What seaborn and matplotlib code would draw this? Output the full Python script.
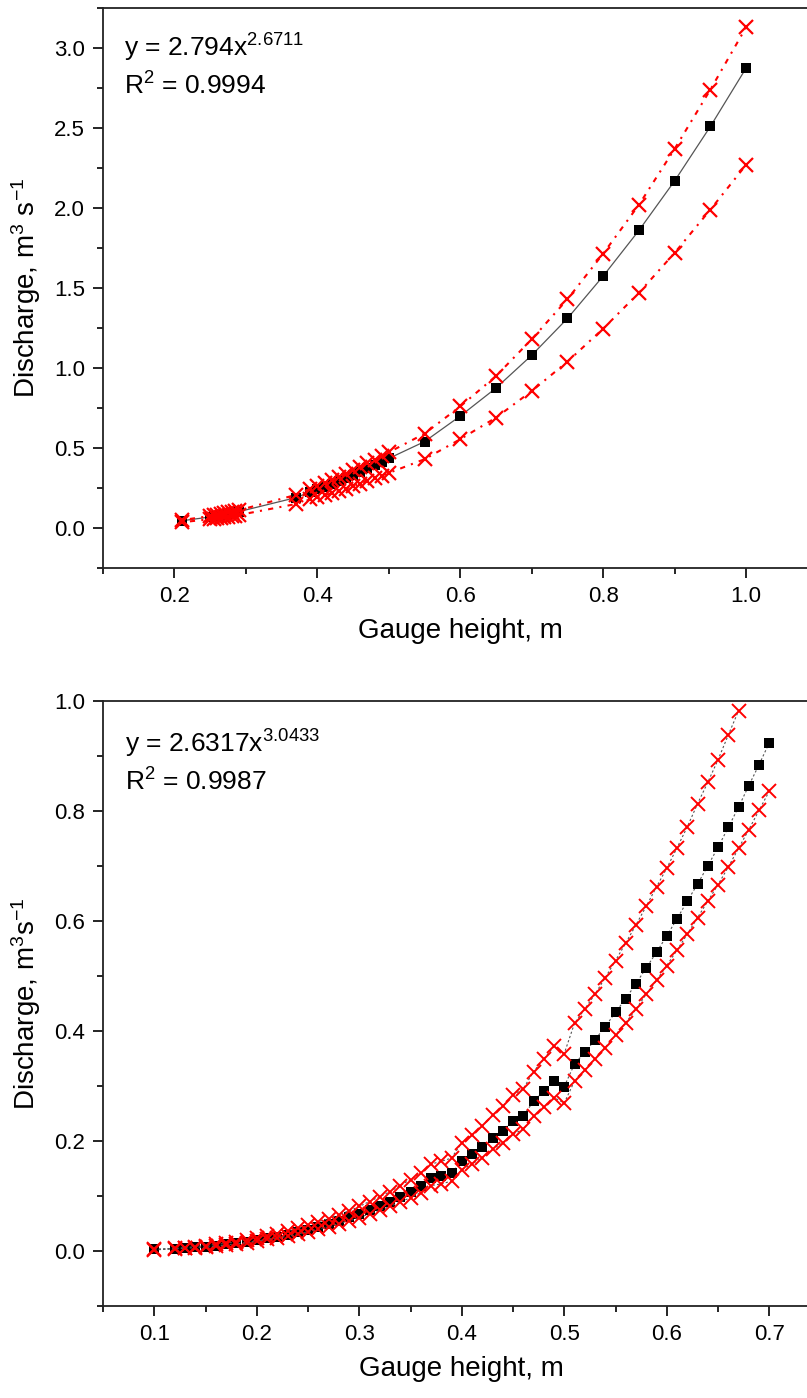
import matplotlib
matplotlib.use("Agg")
import matplotlib.pyplot as plt
import seaborn as sns
import pandas as pd
from matplotlib.ticker import MultipleLocator

# ---------------- data: top panel ----------------
top_x = [0.21, 0.25, 0.255, 0.26, 0.265, 0.27, 0.275, 0.28, 0.285, 0.29,
         0.37, 0.39, 0.40, 0.41, 0.42, 0.43, 0.44, 0.45, 0.46, 0.47, 0.48,
         0.49, 0.50, 0.55, 0.60, 0.65, 0.70, 0.75, 0.80, 0.85, 0.90, 0.95, 1.00]
top_q = [0.045, 0.069, 0.073, 0.077, 0.081, 0.085, 0.089, 0.093, 0.098, 0.102,
         0.19, 0.226, 0.242, 0.258, 0.275, 0.293, 0.312, 0.331, 0.351, 0.372, 0.393,
         0.415, 0.435, 0.54, 0.70, 0.875, 1.08, 1.31, 1.575, 1.86, 2.17, 2.51, 2.875]
top_upper = [0.049, 0.075, 0.079, 0.083, 0.088, 0.092, 0.097, 0.101, 0.107, 0.111,
             0.207, 0.246, 0.263, 0.281, 0.299, 0.319, 0.339, 0.360, 0.382, 0.405, 0.428,
             0.452, 0.473, 0.59, 0.76, 0.95, 1.18, 1.43, 1.715, 2.02, 2.37, 2.74, 3.13]
top_lower = [0.036, 0.055, 0.058, 0.061, 0.064, 0.067, 0.070, 0.073, 0.077, 0.081,
             0.150, 0.179, 0.191, 0.204, 0.217, 0.231, 0.246, 0.262, 0.277, 0.294, 0.311,
             0.328, 0.344, 0.43, 0.555, 0.69, 0.856, 1.04, 1.246, 1.47, 1.72, 1.99, 2.27]
top_eq = r"y = 2.794x$^{2.6711}$"
top_r2 = r"R$^{2}$ = 0.9994"

# ---------------- data: bottom panel ----------------
bot_x = [0.10, 0.12, 0.13, 0.14, 0.15, 0.16, 0.17, 0.18, 0.19, 0.20,
         0.21, 0.22, 0.23, 0.24, 0.25, 0.26, 0.27, 0.28, 0.29, 0.30,
         0.31, 0.32, 0.33, 0.34, 0.35, 0.36, 0.37, 0.38, 0.39, 0.40,
         0.41, 0.42, 0.43, 0.44, 0.45, 0.46, 0.47, 0.48, 0.49, 0.50,
         0.51, 0.52, 0.53, 0.54, 0.55, 0.56, 0.57, 0.58, 0.59, 0.60,
         0.61, 0.62, 0.63, 0.64, 0.65, 0.66, 0.67, 0.68, 0.69, 0.70]
bot_q = [0.003, 0.004, 0.005, 0.007, 0.008, 0.010, 0.012, 0.014, 0.017, 0.020,
         0.023, 0.026, 0.030, 0.034, 0.039, 0.044, 0.049, 0.055, 0.061, 0.067,
         0.075, 0.082, 0.090, 0.099, 0.108, 0.118, 0.132, 0.136, 0.141, 0.164,
         0.176, 0.189, 0.206, 0.219, 0.237, 0.246, 0.272, 0.291, 0.310, 0.299,
         0.340, 0.361, 0.384, 0.408, 0.434, 0.459, 0.486, 0.515, 0.543, 0.573,
         0.604, 0.636, 0.667, 0.700, 0.734, 0.770, 0.807, 0.846, 0.884, 0.924]
bot_upper = [0.003, 0.005, 0.006, 0.008, 0.010, 0.012, 0.014, 0.017, 0.020, 0.024,
             0.028, 0.031, 0.036, 0.041, 0.047, 0.053, 0.059, 0.066, 0.073, 0.081,
             0.090, 0.099, 0.108, 0.119, 0.130, 0.142, 0.158, 0.163, 0.169, 0.197,
             0.211, 0.227, 0.247, 0.263, 0.284, 0.295, 0.326, 0.349, 0.372, 0.359,
             0.414, 0.440, 0.467, 0.497, 0.528, 0.560, 0.593, 0.627, 0.662, 0.696,
             0.733, 0.771, 0.813, 0.852, 0.893, 0.938, 0.982]
bot_lower = [0.002, 0.004, 0.005, 0.006, 0.007, 0.009, 0.011, 0.013, 0.015, 0.018,
             0.021, 0.023, 0.027, 0.031, 0.035, 0.040, 0.044, 0.050, 0.055, 0.060,
             0.068, 0.074, 0.081, 0.089, 0.097, 0.106, 0.119, 0.122, 0.127, 0.148,
             0.158, 0.170, 0.185, 0.197, 0.213, 0.221, 0.245, 0.262, 0.279, 0.269,
             0.309, 0.329, 0.350, 0.370, 0.393, 0.415, 0.440, 0.467, 0.492, 0.519,
             0.547, 0.576, 0.606, 0.636, 0.666, 0.698, 0.732, 0.766, 0.801, 0.836]
bot_eq = r"y = 2.6317x$^{3.0433}$"
bot_r2 = r"R$^{2}$ = 0.9987"

x_label = "Gauge height, m"
top_ylabel = r"Discharge, m$^{3}$ s$^{-1}$"
bot_ylabel = r"Discharge, m$^{3}$s$^{-1}$"

# ---------------- style ----------------
sns.set_style("ticks")
plt.rcParams["font.family"] = ["Liberation Sans", "DejaVu Sans"]
plt.rcParams["mathtext.fontset"] = "custom"
plt.rcParams["mathtext.rm"] = "Liberation Sans"
plt.rcParams["mathtext.it"] = "Liberation Sans:italic"
plt.rcParams["mathtext.bf"] = "Liberation Sans:bold"
plt.rcParams["text.color"] = "black"
plt.rcParams["axes.labelcolor"] = "black"
plt.rcParams["xtick.color"] = "black"
plt.rcParams["ytick.color"] = "black"

W, H = 807, 1398
fig = plt.figure(figsize=(W / 100, H / 100), dpi=100)
fig.patch.set_facecolor("white")


def rect(l, t, r, b):
    return [l / W, 1 - b / H, (r - l) / W, (b - t) / H]


ax1 = fig.add_axes(rect(103, 8, 817.6, 568))
ax2 = fig.add_axes(rect(103, 701, 820.5, 1306))

# ---------------- top panel ----------------
df_top = pd.DataFrame({"h": top_x, "q": top_q, "up": top_upper, "lo": top_lower})
sns.lineplot(data=df_top, x="h", y="q", ax=ax1, estimator=None, sort=False,
             color="#555555", linewidth=0.9, marker="s", markersize=7.5,
             markerfacecolor="black", markeredgecolor="black",
             markeredgewidth=0, zorder=3)
red_dash = (0, (1.0, 3.0, 2.5, 3.0))
for col in ["up", "lo"]:
    sns.lineplot(data=df_top, x="h", y=col, ax=ax1, estimator=None, sort=False,
                 color="red", linewidth=1.5, linestyle=red_dash, marker="x",
                 markersize=10.5, markeredgecolor="red", markeredgewidth=1.6,
                 zorder=4)

ax1.set_xlim(0.1, 1.1)
ax1.set_ylim(-0.25, 3.25)
ax1.xaxis.set_major_locator(MultipleLocator(0.2))
ax1.xaxis.set_minor_locator(MultipleLocator(0.1))
ax1.yaxis.set_major_locator(MultipleLocator(0.5))
ax1.yaxis.set_minor_locator(MultipleLocator(0.25))
ax1.text(0.03, 0.913, top_eq, transform=ax1.transAxes, fontsize=19,
         ha="left", va="baseline")
ax1.text(0.03, 0.846, top_r2, transform=ax1.transAxes, fontsize=19,
         ha="left", va="baseline")

# ---------------- bottom panel ----------------
df_bot = pd.DataFrame({"h": bot_x, "q": bot_q, "lo": bot_lower})
df_up = pd.DataFrame({"h": bot_x[:len(bot_upper)], "up": bot_upper})
grey_dash = (0, (2.0, 2.0))
sns.lineplot(data=df_bot, x="h", y="q", ax=ax2, estimator=None, sort=False,
             color="#555555", linewidth=0.8, linestyle=grey_dash, marker="s",
             markersize=7, markerfacecolor="black", markeredgecolor="black",
             markeredgewidth=0, zorder=3)
sns.lineplot(data=df_up, x="h", y="up", ax=ax2, estimator=None, sort=False,
             color="#555555", linewidth=0.8, linestyle=grey_dash, marker="x",
             markersize=9.5, markeredgecolor="red", markeredgewidth=1.4, zorder=4)
sns.lineplot(data=df_bot, x="h", y="lo", ax=ax2, estimator=None, sort=False,
             color="#555555", linewidth=0.8, linestyle=grey_dash, marker="x",
             markersize=9.5, markeredgecolor="red", markeredgewidth=1.4, zorder=4)

ax2.set_xlim(0.05, 0.75)
ax2.set_ylim(-0.1, 1.0)
ax2.xaxis.set_major_locator(MultipleLocator(0.1))
ax2.xaxis.set_minor_locator(MultipleLocator(0.05))
ax2.yaxis.set_major_locator(MultipleLocator(0.2))
ax2.yaxis.set_minor_locator(MultipleLocator(0.1))
ax2.text(0.03, 0.915, bot_eq, transform=ax2.transAxes, fontsize=19,
         ha="left", va="baseline")
ax2.text(0.03, 0.852, bot_r2, transform=ax2.transAxes, fontsize=19,
         ha="left", va="baseline")

for ax, yl in [(ax1, top_ylabel), (ax2, bot_ylabel)]:
    ax.set_xlabel(x_label, fontsize=20, labelpad=8)
    ax.set_ylabel(yl, fontsize=20, labelpad=8)
    ax.tick_params(axis="both", which="major", direction="out", length=7,
                   width=1.2, labelsize=16, pad=6, color="black")
    ax.tick_params(axis="both", which="minor", direction="out", length=4,
                   width=1.2, color="black")
    for s in ["left", "bottom", "top", "right"]:
        ax.spines[s].set_linewidth(1.3)
        ax.spines[s].set_color("#222222")
    ax.set_facecolor("white")
    ax.grid(False)

fig.savefig("out.png", dpi=100, facecolor="white")
